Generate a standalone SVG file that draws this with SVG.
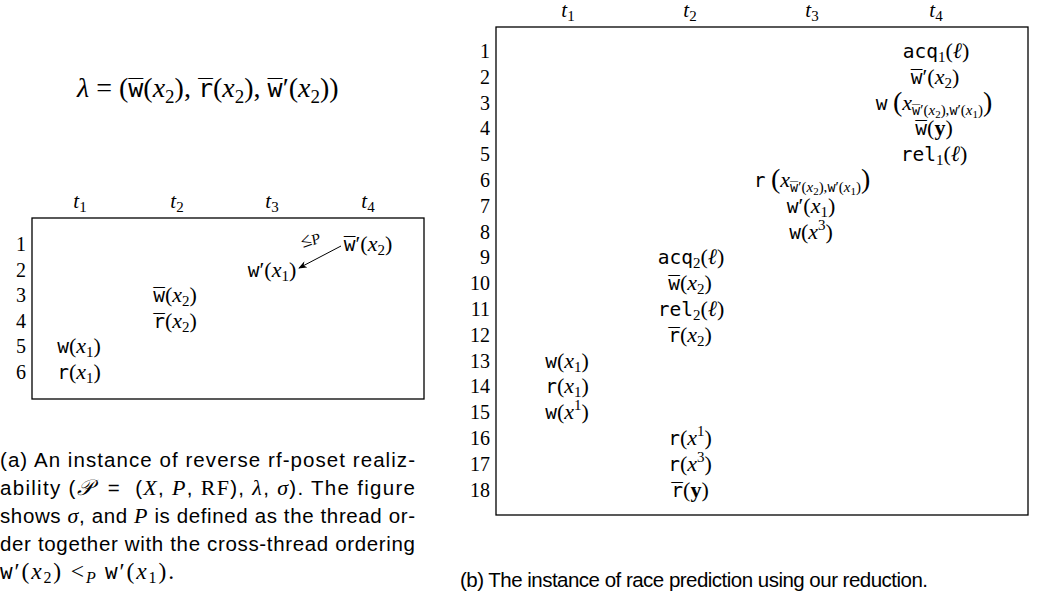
<svg xmlns="http://www.w3.org/2000/svg" width="1041" height="596" viewBox="0 0 1041 596">
<style>
text{font-family:"Liberation Serif",serif;fill:#000}
.e{font-size:22px}
.h{font-size:21px;text-anchor:middle}
.n{font-size:20px;text-anchor:end}
.c{text-anchor:middle}
.m{font-family:"DejaVu Sans Mono",monospace;font-size:19.5px}
.i{font-style:italic}
.s{font-size:15px}
.s2{font-size:15px}
.sm{font-family:"DejaVu Sans Mono",monospace;font-size:13.5px}
.s3{font-size:11px}
.bp{font-size:28px}
.cap{font-family:"Liberation Sans",sans-serif;font-size:20.5px}
.ms{font-family:"Liberation Serif",serif;font-size:22px}
.ml{font-family:"Liberation Serif",serif;font-size:23.5px}
.mss{font-family:"Liberation Serif",serif;font-size:16px}
.box{fill:none;stroke:#000;stroke-width:1.3}
.conn{fill:none;stroke:#000;stroke-width:1}
</style>
<defs>
<marker id="ah" viewBox="0 0 10 8" refX="9" refY="4" markerWidth="9" markerHeight="7" orient="auto" markerUnits="userSpaceOnUse">
<path d="M0,0 L10,4 L0,8 L3,4 Z" fill="#000"/>
</marker>
</defs>

<g id="lambda">
<text x="77" y="97" style="font-size:28px"><tspan class="i">λ</tspan> = (<tspan class="m" style="font-size:25px">w̅</tspan>(<tspan class="i">x</tspan><tspan style="font-size:19px" dy="6">2</tspan><tspan dy="-6">), </tspan><tspan class="m" style="font-size:25px">r̅</tspan>(<tspan class="i">x</tspan><tspan style="font-size:19px" dy="6">2</tspan><tspan dy="-6">), </tspan><tspan class="m" style="font-size:25px">w̅</tspan>′(<tspan class="i">x</tspan><tspan style="font-size:19px" dy="6">2</tspan><tspan dy="-6">))</tspan></text>
</g>

<g id="panel-a">
<g id="a-headers">
<text class="h" x="80" y="208"><tspan class="i">t</tspan><tspan class="s" dy="4">1</tspan></text>
<text class="h" x="177" y="208"><tspan class="i">t</tspan><tspan class="s" dy="4">2</tspan></text>
<text class="h" x="272" y="208"><tspan class="i">t</tspan><tspan class="s" dy="4">3</tspan></text>
<text class="h" x="368" y="208"><tspan class="i">t</tspan><tspan class="s" dy="4">4</tspan></text>
</g>
<rect class="box" x="32" y="218" width="392" height="181"/>
<g id="a-rows">
<text class="n" x="26" y="251">1</text>
<text class="n" x="26" y="276.5">2</text>
<text class="n" x="26" y="302">3</text>
<text class="n" x="26" y="327.5">4</text>
<text class="n" x="26" y="353">5</text>
<text class="n" x="26" y="378.5">6</text>
</g>
<g id="a-w2p"><text class="e c" x="368" y="251"><tspan class="m">w̅</tspan>′(<tspan class="i">x</tspan><tspan class="s" dy="4">2</tspan><tspan dy="-4">)</tspan></text></g>
<g id="a-w1p"><text class="e c" x="272" y="276.5"><tspan class="m">w</tspan>′(<tspan class="i">x</tspan><tspan class="s" dy="4">1</tspan><tspan dy="-4">)</tspan></text></g>
<g id="a-w2"><text class="e c" x="175" y="302"><tspan class="m">w̅</tspan>(<tspan class="i">x</tspan><tspan class="s" dy="4">2</tspan><tspan dy="-4">)</tspan></text></g>
<g id="a-r2"><text class="e c" x="175" y="327.5"><tspan class="m">r̅</tspan>(<tspan class="i">x</tspan><tspan class="s" dy="4">2</tspan><tspan dy="-4">)</tspan></text></g>
<g id="a-w1"><text class="e c" x="79" y="353"><tspan class="m">w</tspan>(<tspan class="i">x</tspan><tspan class="s" dy="4">1</tspan><tspan dy="-4">)</tspan></text></g>
<g id="a-r1"><text class="e c" x="79" y="378.5"><tspan class="m">r</tspan>(<tspan class="i">x</tspan><tspan class="s" dy="4">1</tspan><tspan dy="-4">)</tspan></text></g>
<g id="a-connectors">
<line class="conn" x1="341" y1="246" x2="299" y2="268" marker-end="url(#ah)"/>
<text style="font-size:19px" transform="translate(303,248) rotate(-20)">≤<tspan class="i" style="font-size:15px" dy="1">P</tspan></text>
</g>
</g>

<g id="caption-a">
<text class="cap" x="0" y="467" textLength="415" lengthAdjust="spacing">(a) An instance of reverse rf-poset realiz-</text>
<text class="cap" x="0" y="495" textLength="415" lengthAdjust="spacing">ability (<tspan class="ms i">𝒫</tspan>&#160;&#160;=&#160;&#160;(<tspan class="ms i">X</tspan>, <tspan class="ms i">P</tspan>, <tspan class="ms">RF</tspan>), <tspan class="ms i">λ</tspan>, <tspan class="ms i">σ</tspan>). The figure</text>
<text class="cap" x="0" y="523" textLength="415" lengthAdjust="spacing">shows <tspan class="ms i">σ</tspan>, and <tspan class="ms i">P</tspan> is defined as the thread or-</text>
<text class="cap" x="0" y="551" textLength="415" lengthAdjust="spacing">der together with the cross-thread ordering</text>
<text class="cap" x="0" y="579" textLength="174" lengthAdjust="spacing"><tspan class="m" style="font-size:21px">w</tspan><tspan class="ml">′(</tspan><tspan class="ml i">x</tspan><tspan class="mss" dy="4">2</tspan><tspan class="ml" dy="-4">) &lt;</tspan><tspan class="mss i" dy="4">P</tspan><tspan dy="-4"> </tspan><tspan class="m" style="font-size:21px">w</tspan><tspan class="ml">′(</tspan><tspan class="ml i">x</tspan><tspan class="mss" dy="4">1</tspan><tspan class="ml" dy="-4">).</tspan></text>
</g>

<g id="panel-b">
<g id="b-headers">
<text class="h" x="568" y="17"><tspan class="i">t</tspan><tspan class="s" dy="4">1</tspan></text>
<text class="h" x="690" y="17"><tspan class="i">t</tspan><tspan class="s" dy="4">2</tspan></text>
<text class="h" x="812" y="17"><tspan class="i">t</tspan><tspan class="s" dy="4">3</tspan></text>
<text class="h" x="936" y="17"><tspan class="i">t</tspan><tspan class="s" dy="4">4</tspan></text>
</g>
<rect class="box" x="496" y="27" width="532" height="488"/>
<g id="b-rows">
<text class="n" x="490" y="58">1</text>
<text class="n" x="490" y="83.8">2</text>
<text class="n" x="490" y="109.6">3</text>
<text class="n" x="490" y="135.4">4</text>
<text class="n" x="490" y="161.2">5</text>
<text class="n" x="490" y="187">6</text>
<text class="n" x="490" y="212.8">7</text>
<text class="n" x="490" y="238.6">8</text>
<text class="n" x="490" y="264.4">9</text>
<text class="n" x="490" y="290.2">10</text>
<text class="n" x="490" y="316">11</text>
<text class="n" x="490" y="341.8">12</text>
<text class="n" x="490" y="367.6">13</text>
<text class="n" x="490" y="393.4">14</text>
<text class="n" x="490" y="419.2">15</text>
<text class="n" x="490" y="445">16</text>
<text class="n" x="490" y="470.8">17</text>
<text class="n" x="490" y="496.6">18</text>
</g>
<g id="b-t4">
<text class="e c" x="936" y="58"><tspan class="m">acq</tspan><tspan class="s" dy="4">1</tspan><tspan dy="-4">(<tspan class="i">ℓ</tspan>)</tspan></text>
<text class="e c" x="935" y="83.8"><tspan class="m">w̅</tspan>′(<tspan class="i">x</tspan><tspan class="s" dy="4">2</tspan><tspan dy="-4">)</tspan></text>
<text class="e c" x="934" y="109.6"><tspan class="m">w</tspan> <tspan class="bp" dy="1">(</tspan><tspan class="i" dy="-1">x</tspan><tspan class="sm" dy="5">w̅</tspan><tspan class="s2">′(<tspan class="i">x</tspan></tspan><tspan class="s3" dy="3">2</tspan><tspan class="s2" dy="-3">),</tspan><tspan class="sm">w</tspan><tspan class="s2">′(<tspan class="i">x</tspan></tspan><tspan class="s3" dy="3">1</tspan><tspan class="s2" dy="-3">)</tspan><tspan class="bp" dy="-4">)</tspan></text>
<text class="e c" x="934" y="135.4"><tspan class="m">w̅</tspan>(<tspan font-weight="bold">y</tspan>)</text>
<text class="e c" x="934" y="161.2"><tspan class="m">rel</tspan><tspan class="s" dy="4">1</tspan><tspan dy="-4">(<tspan class="i">ℓ</tspan>)</tspan></text>
</g>
<g id="b-t3">
<text class="e c" x="812" y="187"><tspan class="m">r</tspan> <tspan class="bp" dy="1">(</tspan><tspan class="i" dy="-1">x</tspan><tspan class="sm" dy="5">w̅</tspan><tspan class="s2">′(<tspan class="i">x</tspan></tspan><tspan class="s3" dy="3">2</tspan><tspan class="s2" dy="-3">),</tspan><tspan class="sm">w</tspan><tspan class="s2">′(<tspan class="i">x</tspan></tspan><tspan class="s3" dy="3">1</tspan><tspan class="s2" dy="-3">)</tspan><tspan class="bp" dy="-4">)</tspan></text>
<text class="e c" x="811" y="212.8"><tspan class="m">w</tspan>′(<tspan class="i">x</tspan><tspan class="s" dy="4">1</tspan><tspan dy="-4">)</tspan></text>
<text class="e c" x="811" y="238.6"><tspan class="m">w</tspan>(<tspan class="i">x</tspan><tspan class="s" dy="-9">3</tspan><tspan dy="9">)</tspan></text>
</g>
<g id="b-t2">
<text class="e c" x="691" y="264.4"><tspan class="m">acq</tspan><tspan class="s" dy="4">2</tspan><tspan dy="-4">(<tspan class="i">ℓ</tspan>)</tspan></text>
<text class="e c" x="690" y="290.2"><tspan class="m">w̅</tspan>(<tspan class="i">x</tspan><tspan class="s" dy="4">2</tspan><tspan dy="-4">)</tspan></text>
<text class="e c" x="691" y="316"><tspan class="m">rel</tspan><tspan class="s" dy="4">2</tspan><tspan dy="-4">(<tspan class="i">ℓ</tspan>)</tspan></text>
<text class="e c" x="690" y="341.8"><tspan class="m">r̅</tspan>(<tspan class="i">x</tspan><tspan class="s" dy="4">2</tspan><tspan dy="-4">)</tspan></text>
<text class="e c" x="690" y="445"><tspan class="m">r</tspan>(<tspan class="i">x</tspan><tspan class="s" dy="-9">1</tspan><tspan dy="9">)</tspan></text>
<text class="e c" x="690" y="470.8"><tspan class="m">r</tspan>(<tspan class="i">x</tspan><tspan class="s" dy="-9">3</tspan><tspan dy="9">)</tspan></text>
<text class="e c" x="690" y="496.6"><tspan class="m">r̅</tspan>(<tspan font-weight="bold">y</tspan>)</text>
</g>
<g id="b-t1">
<text class="e c" x="567" y="367.6"><tspan class="m">w</tspan>(<tspan class="i">x</tspan><tspan class="s" dy="4">1</tspan><tspan dy="-4">)</tspan></text>
<text class="e c" x="567" y="393.4"><tspan class="m">r</tspan>(<tspan class="i">x</tspan><tspan class="s" dy="4">1</tspan><tspan dy="-4">)</tspan></text>
<text class="e c" x="567" y="419.2"><tspan class="m">w</tspan>(<tspan class="i">x</tspan><tspan class="s" dy="-9">1</tspan><tspan dy="9">)</tspan></text>
</g>
</g>

<g id="caption-b">
<text class="cap" x="460" y="587" textLength="468" lengthAdjust="spacing">(b) The instance of race prediction using our reduction.</text>
</g>
</svg>
